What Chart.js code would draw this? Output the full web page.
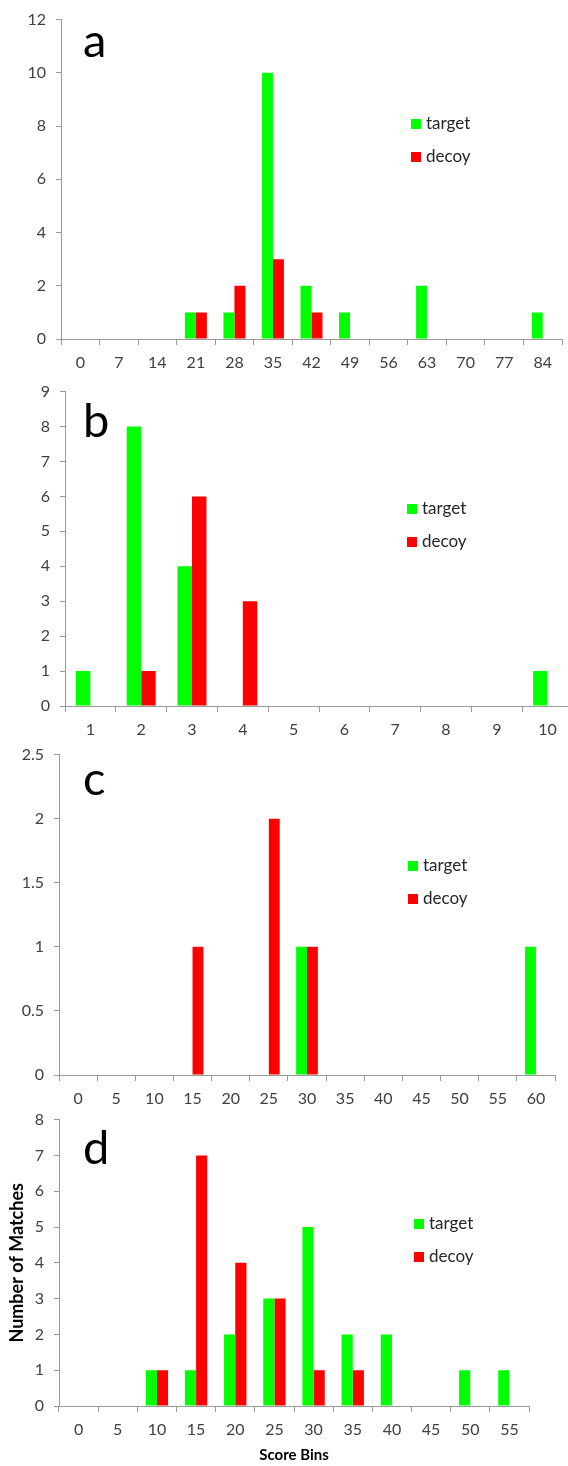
<!DOCTYPE html>
<html>
<head>
<meta charset="utf-8">
<script src="https://cdn.jsdelivr.net/npm/chart.js@4/dist/chart.umd.min.js"></script>
<style>
  body { margin: 0; background: #fff; width: 568px; height: 1466px; position: relative; overflow: hidden; }
  canvas { position: absolute; left: 0; }
</style>
</head>
<body>
<canvas id="chartA" width="568" height="380" style="top:0px"></canvas>
<canvas id="chartB" width="580" height="380" style="top:372px"></canvas>
<canvas id="chartC" width="568" height="380" style="top:735px"></canvas>
<canvas id="chartD" width="568" height="366" style="top:1100px"></canvas>
<script>
// panel a
const binsA = ['0', '7', '14', '21', '28', '35', '42', '49', '56', '63', '70', '77', '84'];
const targetA = [0, 0, 0, 1, 1, 10, 2, 1, 0, 2, 0, 0, 1];
const decoyA = [0, 0, 0, 1, 2, 3, 1, 0, 0, 0, 0, 0, 0];

// panel b
const binsB = ['1', '2', '3', '4', '5', '6', '7', '8', '9', '10'];
const targetB = [1, 8, 4, 0, 0, 0, 0, 0, 0, 1];
const decoyB = [0, 1, 6, 3, 0, 0, 0, 0, 0, 0];

// panel c
const binsC = ['0', '5', '10', '15', '20', '25', '30', '35', '40', '45', '50', '55', '60'];
const targetC = [0, 0, 0, 0, 0, 0, 1, 0, 0, 0, 0, 0, 1];
const decoyC = [0, 0, 0, 1, 0, 2, 1, 0, 0, 0, 0, 0, 0];

// panel d
const binsD = ['0', '5', '10', '15', '20', '25', '30', '35', '40', '45', '50', '55'];
const targetD = [0, 0, 1, 1, 2, 3, 5, 2, 2, 0, 1, 1];
const decoyD = [0, 0, 1, 7, 4, 3, 1, 1, 0, 0, 0, 0];

const FONT = 'Lato, "Liberation Sans", sans-serif';
const AXIS = '#999999';
const TICK = '#404040';

// panel letter + legend drawn inside the plot
const panelDecor = {
  id: 'panelDecor',
  afterDraw(chart, args, opts) {
    const ctx = chart.ctx;
    ctx.save();
    ctx.fillStyle = '#000';
    ctx.font = '47px ' + FONT;
    ctx.textBaseline = 'alphabetic';
    ctx.fillText(opts.letter, opts.letterX, opts.letterY);
    ctx.font = '17px ' + FONT;
    ctx.textBaseline = 'middle';
    chart.data.datasets.forEach((ds, i) => {
      const y = opts.legendY + i * 33;
      ctx.fillStyle = ds.backgroundColor;
      ctx.fillRect(opts.legendX, y - 5, 10, 10);
      ctx.fillStyle = '#262626';
      ctx.fillText(ds.label, opts.legendX + 15, y);
    });
    ctx.restore();
  }
};

function makePanel(id, labels, target, decoy, yMax, yStep, box, decor, titles) {
  const canvas = document.getElementById(id);
  const W = canvas.width;
  const H = canvas.height;
  new Chart(canvas, {
    type: 'bar',
    data: {
      labels: labels,
      datasets: [
        { label: 'target', data: target, backgroundColor: '#00ff00', borderWidth: 0 },
        { label: 'decoy', data: decoy, backgroundColor: '#ff0000', borderWidth: 0 }
      ]
    },
    options: {
      responsive: false,
      animation: false,
      devicePixelRatio: 1,
      layout: { padding: { top: box.top, right: W - box.right, left: 0, bottom: 0 } },
      datasets: { bar: { barPercentage: 1, categoryPercentage: 0.57 } },
      plugins: {
        legend: { display: false },
        tooltip: { enabled: false },
        panelDecor: decor
      },
      scales: {
        x: {
          grid: { drawOnChartArea: false, drawTicks: true, tickLength: 6, color: AXIS, offset: true },
          border: { color: AXIS },
          ticks: { color: TICK, font: { family: FONT, size: 16 }, padding: 8, maxRotation: 0, autoSkip: false },
          title: titles ? { display: true, text: titles.x, color: '#000', font: { family: FONT, size: 15, weight: 'bold' }, padding: { top: 0, bottom: 2 } } : { display: false },
          afterFit: s => { s.height = H - box.bottom; }
        },
        y: {
          min: 0,
          max: yMax,
          grid: { drawOnChartArea: false, drawTicks: true, tickLength: 5, color: AXIS },
          border: { color: AXIS },
          ticks: { stepSize: yStep, color: TICK, font: { family: FONT, size: 16 }, padding: 10, callback: v => String(v) },
          title: titles ? { display: true, text: titles.y, color: '#000', font: { family: FONT, size: 18, weight: 'bold' }, padding: { top: 6, bottom: 0 } } : { display: false },
          afterFit: s => { s.width = box.left; }
        }
      }
    },
    plugins: [panelDecor]
  });
}

makePanel('chartA', binsA, targetA, decoyA, 12, 2,
  { left: 61, right: 562, top: 14, bottom: 339 },
  { letter: 'a', letterX: 83, letterY: 57, legendX: 411, legendY: 124 });

makePanel('chartB', binsB, targetB, decoyB, 9, 1,
  { left: 65, right: 573, top: 10, bottom: 334 },
  { letter: 'b', letterX: 83, letterY: 65, legendX: 407, legendY: 137 });

makePanel('chartC', binsC, targetC, decoyC, 2.5, 0.5,
  { left: 59, right: 555, top: 16, bottom: 340 },
  { letter: 'c', letterX: 83, letterY: 60, legendX: 408, legendY: 131 });

makePanel('chartD', binsD, targetD, decoyD, 8, 1,
  { left: 59, right: 529, top: 19, bottom: 306 },
  { letter: 'd', letterX: 83, letterY: 64, legendX: 414, legendY: 124 },
  { x: 'Score Bins', y: 'Number of Matches' });
</script>
</body>
</html>
